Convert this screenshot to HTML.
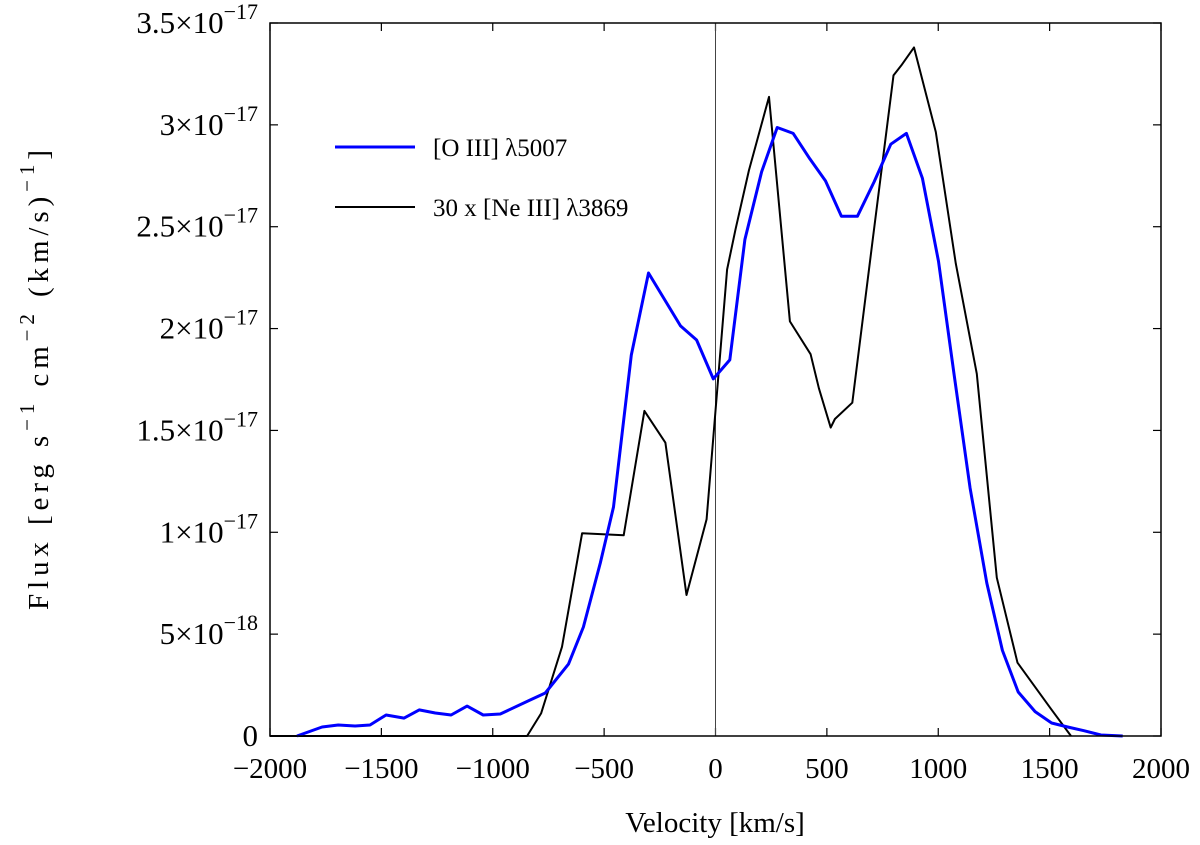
<!DOCTYPE html>
<html><head><meta charset="utf-8"><style>
body{margin:0;background:#fff}
svg{display:block;font-family:"Liberation Serif",serif}
</style></head><body>
<svg id="chart" width="1200" height="845" viewBox="0 0 1200 845">
<g id="grid"></g>
<g id="series"></g>
<rect x="270" y="23" width="891" height="713" fill="none" stroke="#000" stroke-width="1.5"/>
<text x="715" y="832" font-size="29" text-anchor="middle">Velocity [km/s]</text>
<text transform="translate(48,380) rotate(-90)" font-size="29" text-anchor="middle" textLength="460" lengthAdjust="spacing">Flux [erg s<tspan dy="-14" font-size="21">−1</tspan><tspan dy="14"> cm</tspan><tspan dy="-14" font-size="21">−2</tspan><tspan dy="14"> (km/s)</tspan><tspan dy="-14" font-size="21">−1</tspan><tspan dy="14">]</tspan></text>
<g>
<line x1="335" y1="147" x2="415" y2="147" stroke="#0000ff" stroke-width="3"/>
<text x="433" y="156" font-size="25">[O III] λ5007</text>
<line x1="335" y1="207" x2="415" y2="207" stroke="#000" stroke-width="2"/>
<text x="433" y="216" font-size="25">30 x [Ne III] λ3869</text>
</g>
</svg>
<script>
const xTicks=[-2000,-1500,-1000,-500,0,500,1000,1500,2000];
const yTickVals=[0,5,10,15,20,25,30,35];
const yTickMant=["0","5","1","1.5","2","2.5","3","3.5"];
const yTickExp=["","−18","−17","−17","−17","−17","−17","−17"];
const oiiiV=[-1879,-1766,-1694,-1618,-1551,-1479,-1398,-1330,-1258,-1187,-1115,-1043,-966,-831,-764,-660,-593,-517,-458,-378,-301,-157,-85,-10,64,132,207,277,349,424,494,565,637,712,787,857,929,1001,1071,1143,1218,1288,1359,1435,1509,1581,1654,1730,1828];
const oiiiF=[0,0.44,0.54,0.49,0.54,1.03,0.88,1.28,1.13,1.03,1.47,1.03,1.08,1.77,2.11,3.53,5.35,8.49,11.24,18.7,22.73,20.13,19.44,17.53,18.46,24.37,27.69,29.87,29.58,28.33,27.25,25.51,25.51,27.2,29.05,29.58,27.38,23.3,17.74,12.17,7.51,4.2,2.16,1.2,0.64,0.44,0.26,0.05,0];
const neV=[-2000,-846,-783,-689,-599,-412,-319,-225,-130,-40,52,90,150,240,334,427,464,517,536,614,704,799,834,891,989,1079,1173,1263,1356,1506,1596];
const neF=[0,0,1.11,4.38,9.95,9.85,15.96,14.4,6.92,10.64,22.9,24.87,27.76,31.37,20.35,18.74,17.07,15.14,15.56,16.36,24.2,32.43,32.92,33.8,29.65,23.19,17.78,7.77,3.6,1.33,0];
const X0=270,X1=1161,Y0=736,Y1=23;
const sx=v=>X0+(v+2000)/4000*(X1-X0);
const sy=f=>Y0-f/35*(Y0-Y1);
const NS="http://www.w3.org/2000/svg";
const grid=document.getElementById('grid'),ser=document.getElementById('series');
function mk(t,a,p){const e=document.createElementNS(NS,t);for(const k in a)e.setAttribute(k,a[k]);p.appendChild(e);return e;}
xTicks.forEach(v=>{
  const x=sx(v);
  const t1=mk('line',{x1:x,y1:Y0,x2:x,y2:Y0-8,stroke:'#000','stroke-width':1.2},grid);
  
  
  const t2=mk('line',{x1:x,y1:Y1,x2:x,y2:Y1+8,stroke:'#000','stroke-width':1.2},grid);
  
  
  const l=mk('text',{x:x,y:778,'font-size':29,'text-anchor':'middle'},grid);
  l.textContent=v<0?'−'+(-v):String(v);
  
  
});
yTickVals.forEach((f,i)=>{
  const y=sy(f);
  const t1=mk('line',{x1:X0,y1:y,x2:X0+8,y2:y,stroke:'#000','stroke-width':1.2},grid);
  
  
  const t2=mk('line',{x1:X1,y1:y,x2:X1-8,y2:y,stroke:'#000','stroke-width':1.2},grid);
  
  
  const l=mk('text',{x:258,y:y+10,'font-size':31,'text-anchor':'end'},grid);
  
  
  if(yTickExp[i]===''){l.textContent=yTickMant[i];}
  else{
    l.textContent=yTickMant[i]+'×10';
    const s=mk('tspan',{dy:-14,'font-size':22},l);s.textContent=yTickExp[i];
  }
});
const zl=mk('line',{x1:sx(0),y1:Y1,x2:sx(0),y2:Y0,stroke:'#444','stroke-width':1},grid);


function path(V,F){return V.map((v,i)=>(i?'L':'M')+sx(v).toFixed(1)+','+sy(F[i]).toFixed(1)).join('');}
const p1=mk('path',{d:path(neV,neF),fill:'none',stroke:'#000','stroke-width':2,'stroke-linejoin':'round'},ser);


const p2=mk('path',{d:path(oiiiV,oiiiF),fill:'none',stroke:'#0000ff','stroke-width':3,'stroke-linejoin':'round'},ser);


</script>
</body></html>
